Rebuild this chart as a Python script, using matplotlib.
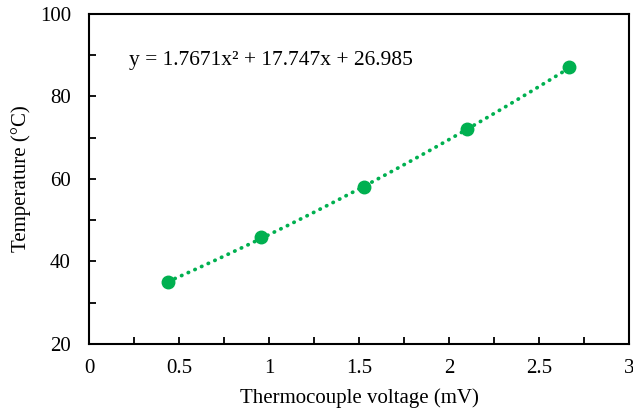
import numpy as np
import matplotlib.pyplot as plt
from matplotlib.ticker import MultipleLocator

plt.rcParams["font.family"] = "Liberation Serif"
plt.rcParams["font.size"] = 15

# data
voltage = [0.44, 0.956, 1.528, 2.10, 2.667]
temperature = [35.0, 46.0, 58.1, 72.1, 87.1]
coeffs = [1.7671, 17.747, 26.985]   # poly trendline, highest order first

green = "#00B050"

fig = plt.figure(figsize=(6.33, 4.19), dpi=100)
ax1 = fig.add_axes([0.1406, 0.179, 0.853, 0.7876])

xs = np.linspace(min(voltage), max(voltage), 200)
ax1.plot(xs, np.polyval(coeffs, xs), color=green, linestyle=(0, (0.1, 1.85)),
         linewidth=2.7, dash_capstyle='round')
ax1.plot(voltage, temperature, 'o', color=green, markersize=9, zorder=3)

ax1.set_xlim(0, 3)
ax1.set_ylim(20, 100)
ax1.xaxis.set_major_locator(MultipleLocator(0.5))
ax1.xaxis.set_minor_locator(MultipleLocator(0.25))
ax1.yaxis.set_major_locator(MultipleLocator(20))
ax1.yaxis.set_minor_locator(MultipleLocator(10))
ax1.xaxis.set_major_formatter(plt.FuncFormatter(lambda v, p: ('%g' % v)))
ax1.yaxis.set_major_formatter(plt.FuncFormatter(lambda v, p: ('%g' % v)))
ax1.tick_params(which='both', direction='in', width=1.3, color='black', length=5)
ax1.tick_params(axis='x', pad=11)
ax1.tick_params(axis='y', pad=13)
for s in ax1.spines.values():
    s.set_linewidth(1.5)
    s.set_color('black')

ax1.set_xlabel("Thermocouple voltage (mV)", labelpad=7)
ax1.set_ylabel("Temperature (°C)", labelpad=6)

ax1.text(0.22, 88.8, "y = 1.7671x² + 17.747x + 26.985", ha='left', va='center',
         fontsize=15.5)

fig.savefig("out.png", dpi=100)
